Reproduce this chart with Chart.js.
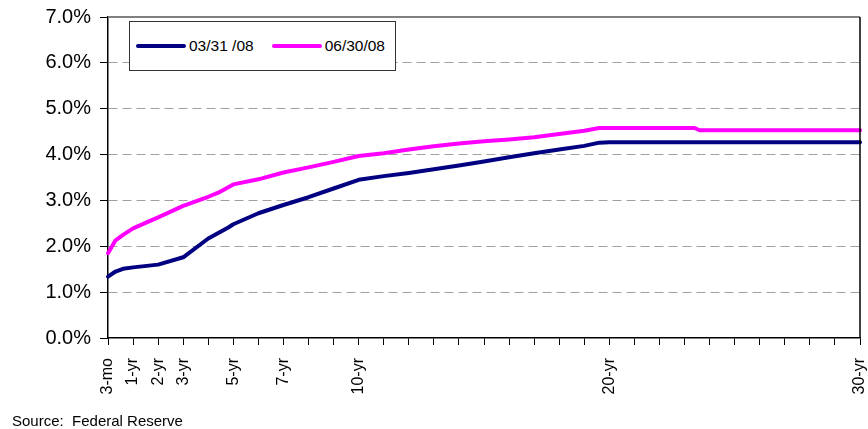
<!DOCTYPE html>
<html>
<head>
<meta charset="utf-8">
<title>Treasury yield curve</title>
<script src="https://cdn.jsdelivr.net/npm/chart.js@4/dist/chart.umd.min.js"></script>
<style>
  body { margin: 0; background: #fff; font-family: "Liberation Sans", Arial, sans-serif; }
  #wrap { position: relative; width: 868px; height: 429px; }
  #chart { position: absolute; left: 0; top: 0; }
  #legend {
    position: absolute; left: 129px; top: 21px; width: 267px; height: 50px;
    box-sizing: border-box; border: 1px solid #333; background: #fff;
    display: flex; align-items: center; padding-left: 6px;
    font-size: 15.5px; color: #000;
  }
  .item { display: flex; align-items: center; margin-right: 18px; }
  .swatch { width: 50px; height: 4px; border-radius: 2px; }
  .item span { margin-left: 3px; white-space: pre; }
  #source { position: absolute; left: 12px; top: 412px; font-size: 15px; color: #000; white-space: pre; }
</style>
</head>
<body>
<div id="wrap">
  <canvas id="chart" width="868" height="429"></canvas>
  <div id="legend"></div>
  <div id="source">Source:  Federal Reserve</div>
</div>
<script>
// x position on the maturity axis: 0 = 3-mo, then one slot per year up to 30-yr
const maturities = [0, 0.3, 0.6, 1, 2, 3, 4, 4.4, 4.8, 5, 6, 7, 8, 9, 10, 11, 12, 13, 14, 15, 16, 17, 18, 19, 19.6, 20, 23.4, 23.6, 30];
const yieldsMar = [1.34, 1.45, 1.51, 1.54, 1.60, 1.76, 2.17, 2.29, 2.41, 2.48, 2.72, 2.90, 3.07, 3.26, 3.45, 3.53, 3.60, 3.68, 3.76, 3.85, 3.94, 4.03, 4.11, 4.19, 4.26, 4.27, 4.27, 4.27, 4.27];
const yieldsJun = [1.85, 2.13, 2.25, 2.39, 2.63, 2.88, 3.08, 3.17, 3.29, 3.35, 3.46, 3.61, 3.72, 3.84, 3.97, 4.03, 4.11, 4.18, 4.24, 4.29, 4.33, 4.38, 4.45, 4.52, 4.58, 4.58, 4.58, 4.53, 4.53];
const seriesNames = ['03/31 /08', '06/30/08'];
const tickLabels = ['3-mo', '1-yr', '2-yr', '3-yr', '', '5-yr', '', '7-yr', '', '', '10-yr',
  '', '', '', '', '', '', '', '', '', '20-yr',
  '', '', '', '', '', '', '', '', '', '30-yr'];
const yTicks = [0, 1, 2, 3, 4, 5, 6, 7];

const toPoints = (ys) => maturities.map((m, i) => ({ x: m, y: ys[i] }));

// frame: gray top edge, black right edge
const plotFrame = {
  id: 'plotFrame',
  afterDatasetsDraw(chart) {
    const { ctx, chartArea: a } = chart;
    ctx.save();
    ctx.strokeStyle = '#808080';
    ctx.lineWidth = 2;
    ctx.beginPath();
    ctx.moveTo(a.left, a.top);
    ctx.lineTo(a.right, a.top);
    ctx.stroke();
    ctx.strokeStyle = '#000';
    ctx.lineWidth = 1.5;
    ctx.beginPath();
    ctx.moveTo(a.right, a.top);
    ctx.lineTo(a.right, a.bottom);
    ctx.stroke();
    ctx.restore();
  }
};

const chart = new Chart(document.getElementById('chart'), {
  type: 'line',
  data: {
    datasets: [
      { label: seriesNames[0], data: toPoints(yieldsMar), borderColor: '#000080', backgroundColor: '#000080' },
      { label: seriesNames[1], data: toPoints(yieldsJun), borderColor: '#FF00FF', backgroundColor: '#FF00FF' }
    ]
  },
  options: {
    responsive: false,
    animation: false,
    events: [],
    layout: { padding: { left: 0, top: 17, right: 8, bottom: 0 } },
    elements: {
      point: { radius: 0 },
      line: { borderWidth: 4, tension: 0, borderJoinStyle: 'round', borderCapStyle: 'round' }
    },
    datasets: { line: { clip: false } },
    plugins: { legend: { display: false }, tooltip: { enabled: false } },
    scales: {
      x: {
        type: 'linear',
        min: 0,
        max: 30,
        afterBuildTicks: (scale) => { scale.ticks = tickLabels.map((_, i) => ({ value: i })); },
        afterFit: (scale) => { scale.height = 91; scale.paddingLeft = 0; scale.paddingRight = 0; },
        ticks: {
          autoSkip: false,
          maxRotation: 90,
          minRotation: 90,
          padding: 13,
          color: '#000',
          font: { family: '"Liberation Sans", Arial, sans-serif', size: 16 },
          callback: (v) => tickLabels[v] || ''
        },
        grid: { drawOnChartArea: false, tickLength: 7, tickColor: '#000', tickWidth: 1 },
        border: { color: '#000', width: 1.5 }
      },
      y: {
        min: 0,
        max: 7,
        afterBuildTicks: (scale) => { scale.ticks = yTicks.map(v => ({ value: v })); },
        afterFit: (scale) => { scale.width = 108; scale.paddingTop = 0; scale.paddingBottom = 0; },
        ticks: {
          padding: 9,
          color: '#000',
          font: { family: '"Liberation Sans", Arial, sans-serif', size: 20 },
          callback: (v) => v.toFixed(1) + '%'
        },
        grid: {
          color: (c) => (c.tick && c.tick.value > 0 && c.tick.value < 7) ? '#A0A0A0' : 'rgba(0,0,0,0)',
          lineWidth: 1,
          tickLength: 8,
          tickColor: '#000'
        },
        border: { color: '#000', width: 1.5, dash: [9, 5] }
      }
    }
  },
  plugins: [plotFrame]
});

// legend built from the chart's datasets
const legend = document.getElementById('legend');
chart.data.datasets.forEach(ds => {
  const item = document.createElement('div');
  item.className = 'item';
  item.innerHTML = `<div class="swatch" style="background:${ds.borderColor}"></div><span>${ds.label}</span>`;
  legend.appendChild(item);
});
</script>
</body>
</html>
